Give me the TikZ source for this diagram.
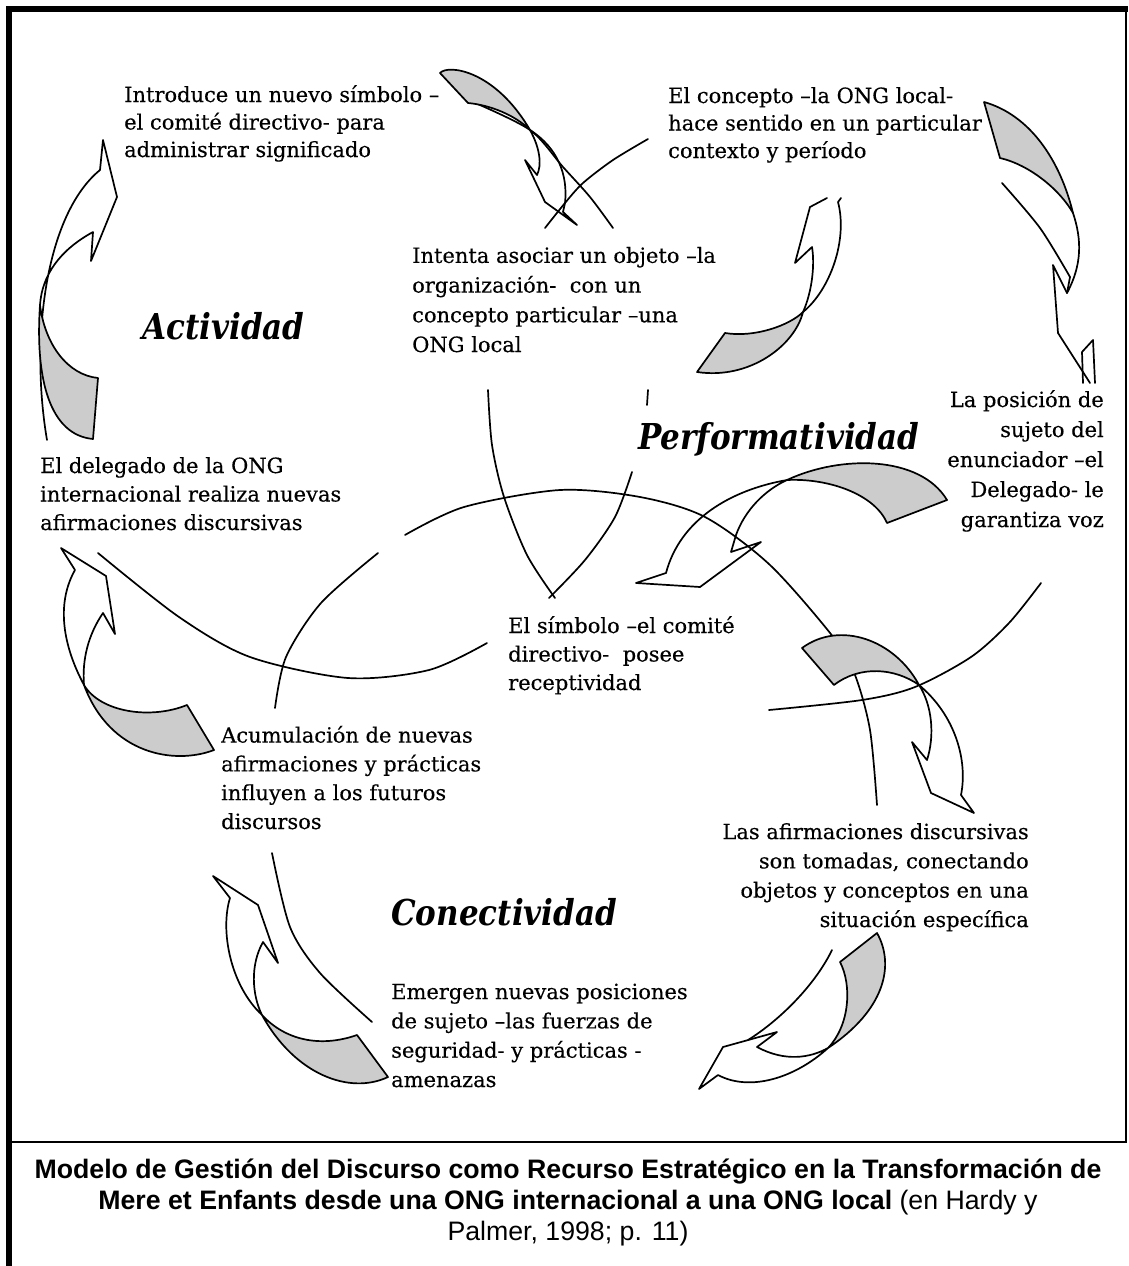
\documentclass[tikz,border=0pt]{standalone}
\usepackage{fontspec}
\setmainfont{DejaVu Serif}
\newfontfamily\bodyfont{DejaVu Serif}[FakeBold=0.35]
\newfontfamily\capsans{Liberation Sans}
\definecolor{lobegray}{RGB}{204,204,204}
\tikzset{
  ln/.style={line width=1.7pt, line join=round, line cap=round},
  lobe/.style={ln, fill=lobegray, draw=black},
  body/.style={inner sep=0pt, font=\bodyfont\fontsize{21}{#1}\selectfont},
  lbl/.style={inner sep=0pt, font=\fontsize{31}{36}\selectfont\bfseries\itshape},
  captext/.style={inner sep=0pt, font=\capsans\fontsize{26.7}{31}\selectfont},
}
\begin{document}
\begin{tikzpicture}[x=1pt,y=-1pt]
\useasboundingbox (0,0) rectangle (1128,1266);
% frame
\draw[line width=6pt] (9,1266) -- (9,9) -- (1128,9);
\draw[line width=2pt] (1126,9) -- (1126,1142) -- (9,1142);
% circle arcs
\draw[ln] plot[smooth] coordinates {(473,102) (530,130) (563,167) (590,197) (613,228)};
\draw[ln] plot[smooth] coordinates {(648,139) (613,160) (583,183) (565,203) (545,228)};
\draw[ln] plot[smooth] coordinates {(488,390) (492,445) (504,497) (527,555) (555,598)};
\draw[ln] (648,390) -- (647,405);
\draw[ln] plot[smooth] coordinates {(632,472) (615,517) (585,560) (549,598)};
\draw[ln] plot[smooth] coordinates {(98,553) (179,617) (250,657) (348,678) (429,670) (487,643)};
\draw[ln] plot[smooth] coordinates {(378,553) (321,603) (286,657) (275,708)};
\draw[ln] plot[smooth] coordinates {(272,853) (290,927) (320,973) (372,1022)};
\draw[ln] plot[smooth] coordinates {(405,535) (464,507) (560,490) (640,497) (705,517) (770,565) (834,638) (855,675) (870,730) (877,805)};
\draw[ln] plot[smooth] coordinates {(769,710) (862,700) (915,687) (971,657) (1009,623) (1041,583)};
\draw[ln] plot[smooth] coordinates {(1002,183) (1040,228) (1070,277)};
\draw[ln] (832,950) .. controls (815,985) and (780,1020) .. (748,1040);
% A1
\draw[ln] (47,440) .. controls (30,340) and (45,215) .. (100,170) -- (103,140) -- (117,197) -- (91,261) -- (93,232) .. controls (60,250) and (42,275) .. (40,305);
\draw[lobe] (40,305) .. controls (35,380) and (50,435) .. (93,439) -- (98,378) .. controls (68,375) and (45,345) .. (40,305) -- cycle;
% A2
\draw[ln] (530,130) .. controls (540,148) and (542,165) .. (537,175) -- (525,160) -- (545,202) -- (577,225) -- (563,212) -- (565,203) .. controls (568,175) and (558,148) .. (530,130);
\draw[lobe] (440,73) .. controls (448,64) and (495,70) .. (530,130) .. controls (515,115) and (490,105) .. (468,103) -- cycle;
% A3
\draw[ln] (803,312) .. controls (812,292) and (815,265) .. (812,247) -- (795,263) -- (810,207) -- (827,198);
\draw[ln] (803,312) .. controls (830,290) and (848,240) .. (838,202) -- (841,198);
\draw[lobe] (697,372) -- (725,333) .. controls (755,338) and (790,325) .. (803,312) .. controls (795,345) and (750,380) .. (697,372) -- cycle;
% A4
\draw[ln] (1073,213) .. controls (1082,240) and (1082,265) .. (1067,293) -- (1053,265) -- (1058,333) -- (1090,383);
\draw[ln] (1070,277) -- (1067,293);
\draw[ln] (1083,383) -- (1082,352) -- (1093,340) -- (1095,383);
\draw[lobe] (984,102) -- (1000,158) .. controls (1030,165) and (1060,190) .. (1073,213) .. controls (1060,160) and (1030,115) .. (984,102) -- cycle;
% A5
\draw[ln] (787,480) .. controls (730,490) and (680,520) .. (666,573) -- (636,583) -- (700,587) -- (761,542) -- (731,552) -- (736,535) .. controls (745,510) and (765,490) .. (787,480);
\draw[lobe] (787,480) .. controls (840,455) and (920,455) .. (947,500) -- (887,523) .. controls (875,495) and (830,478) .. (787,480) -- cycle;
% A6
\draw[ln] (919,685) .. controls (955,715) and (968,760) .. (961,795) -- (974,813) -- (931,793) -- (912,742) -- (927,760) .. controls (935,735) and (932,705) .. (919,685);
\draw[lobe] (802,648) .. controls (840,620) and (895,640) .. (919,685) .. controls (895,668) and (860,665) .. (834,685) -- cycle;
% A7
\draw[ln] (828,1048) .. controls (795,1078) and (750,1092) .. (718,1075) -- (699,1089) -- (723,1047) -- (777,1032) -- (757,1047) .. controls (785,1062) and (810,1058) .. (828,1048);
\draw[lobe] (877,933) -- (840,962) .. controls (852,985) and (850,1025) .. (828,1048) .. controls (885,1010) and (895,965) .. (877,933) -- cycle;
% A8
\draw[ln] (262,1015) .. controls (230,985) and (220,930) .. (230,898) -- (213,876) -- (258,905) -- (278,963) -- (263,942) .. controls (250,965) and (252,995) .. (262,1015);
\draw[lobe] (357,1035) -- (388,1077) .. controls (350,1095) and (295,1075) .. (262,1015) .. controls (285,1040) and (320,1048) .. (357,1035) -- cycle;
% A9
\draw[ln] (84,685) .. controls (60,640) and (58,600) .. (75,570) -- (61,548) -- (106,576) -- (115,634) -- (103,613) .. controls (88,635) and (82,660) .. (84,685);
\draw[lobe] (187,705) -- (214,750) .. controls (175,765) and (110,755) .. (84,685) .. controls (100,712) and (150,720) .. (187,705) -- cycle;
% texts (anchor = baseline of last line)
\node[body=27.5, anchor=base west, align=left] (t1) at (124,157) {Introduce un nuevo símbolo –\\el comité directivo- para\\administrar significado};
\node[body=27.5, anchor=base west, align=left] (t2) at (668,158) {El concepto –la ONG local-\\hace sentido en un particular\\contexto y período};
\node[body=29.7, anchor=base west, align=left] (t3) at (412,352) {Intenta asociar un objeto –la\\organización-\ \ con un\\concepto particular –una\\ONG local};
\node[body=30, anchor=base east, align=right] (t4) at (1104,527) {La posición de\\sujeto del\\enunciador –el\\Delegado- le\\garantiza voz};
\node[body=28.5, anchor=base west, align=left] (t5) at (40,530) {El delegado de la ONG\\internacional realiza nuevas\\afirmaciones discursivas};
\node[body=28.5, anchor=base west, align=left] (t6) at (508,690) {El símbolo –el comité\\directivo-\ \ posee\\receptividad};
\node[body=28.8, anchor=base west, align=left] (t7) at (221,829) {Acumulación de nuevas\\afirmaciones y prácticas\\influyen a los futuros\\discursos};
\node[body=29.3, anchor=base east, align=right] (t8) at (1029,927) {Las afirmaciones discursivas\\son tomadas, conectando\\objetos y conceptos en una\\situación específica};
\node[body=29.3, anchor=base west, align=left] (t9) at (391,1087) {Emergen nuevas posiciones\\de sujeto –las fuerzas de\\seguridad- y prácticas -\\amenazas};
\node[lbl, anchor=base west] (act) at (142,339) {\scalebox{1}[1.15]{Actividad}};
\node[lbl, anchor=base west] (perf) at (638,449) {\scalebox{1}[1.15]{Performatividad}};
\node[lbl, anchor=base west] (con) at (391,925) {\scalebox{1}[1.15]{Conectividad}};
% caption
\node[captext, anchor=base] (cap1) at (568,1178) {\bfseries Modelo de Gestión del Discurso como Recurso Estratégico en la Transformación de};
\node[captext, anchor=base] (cap2) at (568,1209) {\bfseries Mere et Enfants desde una ONG internacional a una ONG local\mdseries{} (en Hardy y};
\node[captext, anchor=base] (cap3) at (568,1240) {Palmer, 1998; p. 11)};
\end{tikzpicture}
\end{document}
